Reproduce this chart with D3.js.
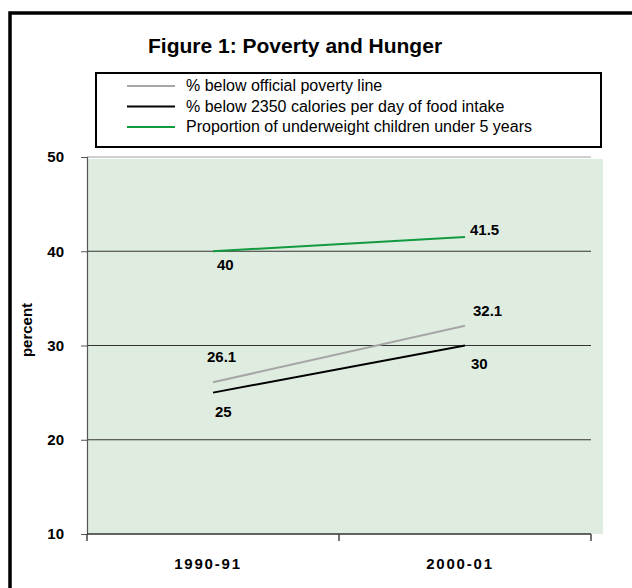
<!DOCTYPE html>
<html>
<head>
<meta charset="utf-8">
<script src="https://cdn.jsdelivr.net/npm/d3@7"></script>
<style>
  html, body { margin: 0; padding: 0; background: #fff; }
  svg { display: block; font-family: "Liberation Sans", Arial, sans-serif; }
</style>
</head>
<body>
<svg id="chart" width="632" height="588"></svg>
<script>
// Periods on the horizontal axis
const periods = ["1990-91", "2000-01"];
// Series values (percent)
const povertyLine = [26.1, 32.1];
const calorieIntake = [25, 30];
const underweightChildren = [40, 41.5];
// Axis ticks
const yTicks = [10, 20, 30, 40, 50];
const seriesNames = [
  "% below official poverty line",
  "% below 2350 calories per day of food intake",
  "Proportion of underweight children under 5 years"
];

// Styling and label placement for each series
const series = [
  { name: seriesNames[0], values: povertyLine, color: "#a6a6a6",
    labelPos: [{ dx: -6, dy: -20 }, { dx: 8, dy: -10 }] },
  { name: seriesNames[1], values: calorieIntake, color: "#000000",
    labelPos: [{ dx: 2, dy: 24 }, { dx: 6, dy: 23 }] },
  { name: seriesNames[2], values: underweightChildren, color: "#129a3e",
    labelPos: [{ dx: 4, dy: 19 }, { dx: 5, dy: -2 }] }
];

const svg = d3.select("#chart");

// Outer frame
svg.append("rect")
  .attr("x", 10).attr("y", 13).attr("width", 640).attr("height", 600)
  .attr("fill", "none").attr("stroke", "#000").attr("stroke-width", 3.5);

// Title
svg.append("text")
  .attr("x", 148).attr("y", 53)
  .attr("font-size", 21).attr("font-weight", "bold")
  .text("Figure 1: Poverty and Hunger");

// Legend
const legend = svg.append("g");
legend.append("rect")
  .attr("x", 96).attr("y", 73).attr("width", 505).attr("height", 74)
  .attr("fill", "#fff").attr("stroke", "#000").attr("stroke-width", 2);
series.forEach((s, i) => {
  const cy = 85 + i * 20.5;
  legend.append("line")
    .attr("x1", 127).attr("x2", 175).attr("y1", cy + 1).attr("y2", cy + 1)
    .attr("stroke", s.color).attr("stroke-width", 1.8);
  legend.append("text")
    .attr("x", 186).attr("y", cy + 6)
    .attr("font-size", 16)
    .text(s.name);
});

// Scales
const x = d3.scaleBand().domain(periods).range([87, 591]);
const y = d3.scaleLinear().domain([10, 50]).range([534, 157]);
const cx = d => x(d) + x.bandwidth() / 2;

// Plot background
svg.append("rect")
  .attr("x", 87).attr("y", y(50) + 2)
  .attr("width", 603 - 87).attr("height", y(10) - y(50) - 2)
  .attr("fill", "#dfece0");

// Horizontal gridlines
svg.append("g").selectAll("line")
  .data(yTicks.filter(t => t > 10))
  .join("line")
  .attr("x1", 87).attr("x2", 591)
  .attr("y1", d => y(d)).attr("y2", d => y(d))
  .attr("stroke", d => d === 50 ? "#a0a0a0" : "#333")
  .attr("stroke-width", 1.2);

// Y axis
const yAxis = svg.append("g")
  .attr("transform", "translate(87,0)")
  .call(d3.axisLeft(y).tickValues(yTicks).tickSize(6).tickPadding(17));
yAxis.select(".domain").attr("stroke", "#555").attr("stroke-width", 1.2);
yAxis.selectAll(".tick line").attr("stroke", "#555");
yAxis.selectAll(".tick text")
  .attr("font-size", 15).attr("font-weight", "bold")
  .attr("font-family", "Liberation Sans, Arial, sans-serif")
  .attr("fill", "#000");

// X axis
const xAxis = svg.append("g")
  .attr("transform", `translate(0,${y(10)})`)
  .call(d3.axisBottom(x).tickSize(0).tickPadding(24));
xAxis.select(".domain").attr("stroke", "#333").attr("stroke-width", 1.5)
  .attr("d", "M87,0H591");
xAxis.selectAll(".tick text")
  .attr("font-size", 15).attr("font-weight", "bold")
  .attr("letter-spacing", 1.8)
  .attr("dx", -5)
  .attr("font-family", "Liberation Sans, Arial, sans-serif")
  .attr("fill", "#000");
// Category boundary ticks
const edges = [...periods.map(p => x(p)), x.range()[1]];
svg.append("g").selectAll("line")
  .data(edges)
  .join("line")
  .attr("x1", d => d).attr("x2", d => d)
  .attr("y1", y(10)).attr("y2", y(10) + 7)
  .attr("stroke", "#444").attr("stroke-width", 1.5);

// Y axis title
svg.append("text")
  .attr("transform", `translate(32,330) rotate(-90)`)
  .attr("text-anchor", "middle")
  .attr("font-size", 15).attr("font-weight", "bold")
  .text("percent");

// Series lines
const line = d3.line().x((d, i) => cx(periods[i])).y(d => y(d));
series.forEach(s => {
  svg.append("path")
    .datum(s.values)
    .attr("d", line)
    .attr("fill", "none")
    .attr("stroke", s.color)
    .attr("stroke-width", 2);
});

// Value labels
series.forEach(s => {
  s.values.forEach((v, i) => {
    const p = s.labelPos[i];
    svg.append("text")
      .attr("x", cx(periods[i]) + p.dx)
      .attr("y", y(v) + p.dy)
      .attr("font-size", 15).attr("font-weight", "bold")
      .text(v);
  });
});
</script>
</body>
</html>
